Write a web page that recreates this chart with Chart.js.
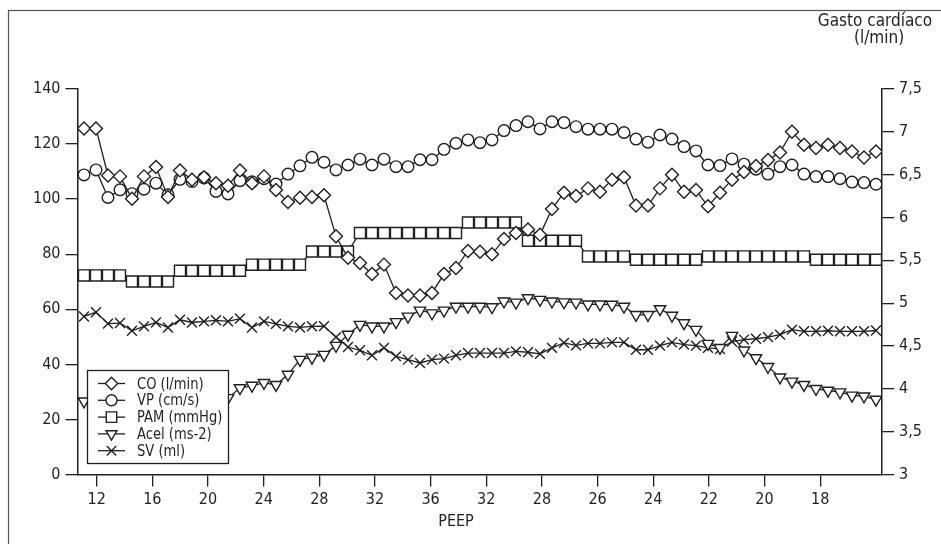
<!DOCTYPE html>
<html>
<head>
<meta charset="utf-8">
<script src="https://cdn.jsdelivr.net/npm/chart.js@4.4.1/dist/chart.umd.min.js"></script>
<style>
  html, body { margin: 0; padding: 0; background: #fff; }
  #wrap { position: relative; width: 941px; height: 544px; }
</style>
</head>
<body>
<div id="wrap"><canvas id="peepChart" width="941" height="544"></canvas></div>
<script>
// PEEP labels along the x axis (sample index axis, one sample per point)
const peepLabels = ["12", "16", "20", "24", "28", "32", "36", "32", "28", "26", "24", "22", "20", "18"];
const peepTickPos = peepLabels.map((_, k) => 1.06 + k * 4.6375);

// CO (l/min) -> right axis
const coValues = [7.04, 7.04, 6.49, 6.48, 6.22, 6.48, 6.59, 6.24, 6.55, 6.44,
  6.47, 6.40, 6.37, 6.55, 6.40, 6.48, 6.32, 6.18, 6.23, 6.24,
  6.26, 5.78, 5.53, 5.47, 5.34, 5.45, 5.12, 5.09, 5.09, 5.12,
  5.34, 5.41, 5.61, 5.60, 5.57, 5.75, 5.82, 5.86, 5.80, 6.10,
  6.29, 6.25, 6.34, 6.30, 6.44, 6.47, 6.14, 6.14, 6.34, 6.50,
  6.30, 6.32, 6.13, 6.29, 6.44, 6.53, 6.60, 6.67, 6.76, 7.00,
  6.85, 6.81, 6.85, 6.81, 6.77, 6.70, 6.77];
// VP (cm/s)
const vpValues = [108.8, 110.6, 100.6, 103.4, 102.0, 103.6, 105.8, 101.6, 107.2, 106.4,
  107.7, 102.8, 101.9, 106.7, 106.3, 107.4, 105.5, 109.1, 112.1, 115.2,
  113.4, 110.6, 112.4, 114.5, 112.4, 114.5, 111.8, 111.8, 114.3, 114.3,
  118.1, 120.3, 121.5, 120.5, 121.5, 124.9, 126.7, 128.1, 125.5, 128.1,
  127.8, 126.3, 125.4, 125.4, 125.4, 124.2, 121.8, 120.7, 123.3, 121.8,
  119.1, 117.5, 112.4, 112.2, 114.6, 112.7, 110.9, 109.1, 111.8, 112.4,
  109.1, 108.2, 108.2, 107.4, 106.2, 106.0, 105.4];
// PAM (mmHg)
const pamValues = [72.3, 72.3, 72.3, 72.3, 70.1, 70.1, 70.1, 70.1, 74, 74,
  74, 74, 74, 74, 76.2, 76.2, 76.2, 76.2, 76.2, 81,
  81, 81, 81, 87.7, 87.7, 87.7, 87.7, 87.7, 87.7, 87.7,
  87.7, 87.7, 91.5, 91.5, 91.5, 91.5, 91.5, 84.9, 84.9, 84.9,
  84.9, 84.9, 79.2, 79.2, 79.2, 79.2, 78, 78, 78, 78,
  78, 78, 79.2, 79.2, 79.2, 79.2, 79.2, 79.2, 79.2, 79.2,
  79.2, 78, 78, 78, 78, 78, 78];
// Acel (ms-2)
const acelValues = [26.6, 27, 27, 28, 27.5, 28, 28, 27.5, 28, 28,
  28, 28, 27.8, 31.4, 32.3, 33.3, 32.6, 36.3, 41.7, 42.5,
  43.5, 46.8, 50.8, 54.4, 53.8, 53.8, 55.4, 57.4, 59.6, 58.6,
  59.6, 61.0, 61.0, 61.0, 60.8, 62.9, 62.5, 64.1, 63.5, 62.9,
  62.6, 62.5, 61.8, 61.8, 61.7, 61.0, 58.0, 58.0, 60.1, 57.7,
  55.0, 52.6, 47.5, 46.0, 50.4, 45.1, 42.3, 39.1, 35.3, 33.8,
  32.6, 31.1, 30.5, 29.9, 28.7, 28.4, 27.2];
// SV (ml)
const svValues = [57.4, 58.9, 54.8, 55.0, 52.2, 53.8, 55.2, 53.4, 56.2, 55.2,
  55.6, 56.0, 55.6, 56.6, 53.4, 55.6, 54.7, 53.8, 53.4, 53.8,
  53.9, 49.9, 46.3, 45.1, 43.3, 46.0, 42.9, 41.7, 40.5, 41.7,
  42.1, 43.3, 44.1, 44.1, 44.1, 44.1, 44.7, 44.4, 43.8, 46.0,
  47.8, 46.9, 47.6, 47.6, 48.0, 48.0, 45.3, 45.3, 46.8, 48.0,
  47.2, 46.8, 46.0, 45.6, 48.3, 49.0, 49.3, 49.9, 50.8, 52.6,
  52.0, 52.0, 52.2, 52.0, 52.0, 52.0, 52.3];

const INK = "#231f20";
const FONT = "'Liberation Sans Narrow', 'DejaVu Sans Condensed', 'Arial Narrow', 'Liberation Sans', sans-serif";

const toPoints = (arr) => arr.map((v, i) => ({ x: i, y: v }));

const seriesStyle = function (label, values, axis, style, radius, rotation) {
  return {
    label: label,
    data: toPoints(values),
    yAxisID: axis,
    borderColor: INK,
    borderWidth: 1.3,
    backgroundColor: "#fff",
    pointStyle: style,
    pointRadius: radius,
    pointRotation: rotation || 0,
    pointBackgroundColor: "#fff",
    pointBorderColor: INK,
    pointBorderWidth: 1.4,
    tension: 0,
    fill: false,
  };
};

const datasets = [
  seriesStyle("CO (l/min)", coValues, "y2", "rectRot", 6.5),
  seriesStyle("VP (cm/s)", vpValues, "y", "circle", 5.8),
  seriesStyle("PAM (mmHg)", pamValues, "y", "rect", 7.8),
  seriesStyle("Acel (ms-2)", acelValues, "y", "triangle", 6.6, 180),
  seriesStyle("SV (ml)", svValues, "y", "crossRot", 7),
];

const axisGrid = {
  drawOnChartArea: false,
  drawTicks: true,
  tickLength: 12,
  color: INK,
  lineWidth: 1.3,
};
const axisBorder = { display: true, color: INK, width: 1.5 };
const tickFont = { family: FONT, size: 16 };

// frame, titles and the boxed legend
const extrasPlugin = {
  id: "extras",
  afterDraw(chart) {
    const ctx = chart.ctx;
    ctx.save();
    ctx.strokeStyle = "#555";
    ctx.lineWidth = 1.2;
    ctx.strokeRect(8.5, 10.5, 940, 540);

    ctx.fillStyle = INK;
    ctx.font = "17px " + FONT;
    ctx.textAlign = "center";
    ctx.textBaseline = "middle";
    ctx.fillText("Gasto cardíaco", 875, 22);
    ctx.fillText("(l/min)", 879, 39);
    ctx.font = "16px " + FONT;
    ctx.fillText("PEEP", 456, 522);

    // legend
    const bx = 87, by = 370, bw = 141, bh = 93;
    ctx.fillStyle = "#fff";
    ctx.fillRect(bx, by, bw, bh);
    ctx.strokeStyle = INK;
    ctx.lineWidth = 1.3;
    ctx.strokeRect(bx + 0.5, by + 0.5, bw, bh);
    chart.data.datasets.forEach((ds, k) => {
      const y = 383.5 + k * 16.8;
      ctx.strokeStyle = INK;
      ctx.lineWidth = 1.3;
      ctx.beginPath();
      ctx.moveTo(98, y);
      ctx.lineTo(125, y);
      ctx.stroke();
      ctx.fillStyle = "#fff";
      ctx.lineWidth = 1.4;
      Chart.helpers.drawPoint(ctx, {
        pointStyle: ds.pointStyle,
        rotation: ds.pointRotation,
        radius: ds.pointRadius * 0.95,
        borderWidth: 1.4,
      }, 111.5, y);
      ctx.fillStyle = INK;
      ctx.textAlign = "left";
      ctx.save();
      ctx.translate(137, y + 1);
      ctx.scale(0.91, 1);
      ctx.fillText(ds.label, 0, 0);
      ctx.restore();
    });
    ctx.restore();
  },
};

new Chart(document.getElementById("peepChart"), {
  type: "line",
  data: { datasets: datasets },
  options: {
    responsive: false,
    devicePixelRatio: 1,
    animation: false,
    events: [],
    layout: { padding: { left: 0, right: 0, top: 89, bottom: 0 } },
    plugins: {
      legend: { display: false },
      tooltip: { enabled: false },
    },
    scales: {
      x: {
        type: "linear",
        min: -0.54,
        max: 66.5,
        grid: axisGrid,
        border: axisBorder,
        afterBuildTicks: (scale) => {
          scale.ticks = peepTickPos.map((v) => ({ value: v }));
        },
        afterFit: (scale) => {
          scale.height = 69.5;
        },
        ticks: {
          autoSkip: false,
          maxRotation: 0,
          padding: 4,
          color: INK,
          font: tickFont,
          callback: (value, index) => peepLabels[index],
        },
      },
      y: {
        position: "left",
        min: 0,
        max: 140,
        grid: axisGrid,
        border: axisBorder,
        afterFit: (scale) => {
          scale.width = 77.5;
        },
        ticks: { stepSize: 20, padding: 5, color: INK, font: tickFont },
      },
      y2: {
        position: "right",
        min: 3,
        max: 7.5,
        grid: axisGrid,
        border: axisBorder,
        afterFit: (scale) => {
          scale.width = 59;
        },
        ticks: {
          stepSize: 0.5,
          padding: 5,
          color: INK,
          font: tickFont,
          callback: (v) => String(v).replace(".", ","),
        },
      },
    },
  },
  plugins: [extrasPlugin],
});
</script>
</body>
</html>
